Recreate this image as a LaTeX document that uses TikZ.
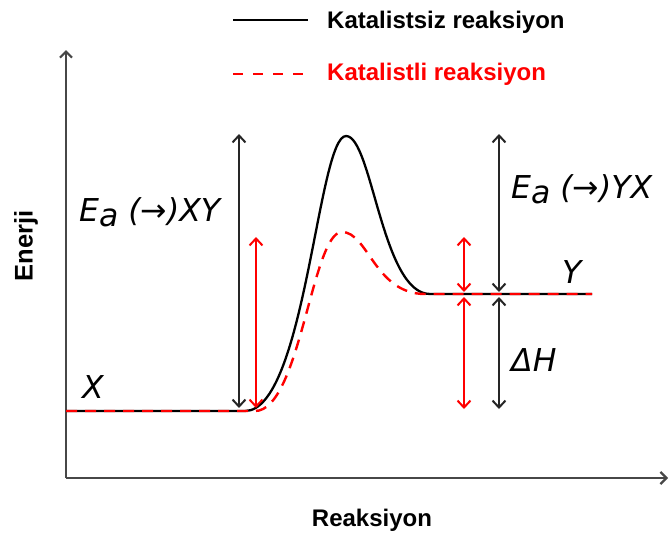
\documentclass[tikz,border=0pt]{standalone}
\usepackage{fontspec}
\setmainfont{Liberation Sans}
\newfontfamily\dvfont{DejaVu Sans}
\usetikzlibrary{arrows.meta}
\tikzset{
  axisline/.style={draw=black!72, line width=2.8pt, -{Straight Barb[length=6pt,width=12pt,line width=2.2pt]}},
  blkcurve/.style={draw=black, line width=2.3pt},
  redcurve/.style={draw=red, line width=2.4pt, dash pattern=on 11pt off 8pt},
  blkdim/.style={draw=black!85, line width=2pt, {Straight Barb[length=7pt,width=13pt]}-{Straight Barb[length=7pt,width=13pt]}},
  reddim/.style={blkdim, draw=red},
  legtext/.style={font=\fontsize{24}{26}\selectfont\bfseries, anchor=west, inner sep=0pt},
  axtext/.style={font=\fontsize{24}{26}\selectfont\bfseries, inner sep=0pt},
  mlab/.style={font=\dvfont\fontsize{31.5}{34}\selectfont\itshape, inner sep=0pt, anchor=west},
}
\newcommand{\Ea}{E\raisebox{-5pt}{a}}
\begin{document}
\begin{tikzpicture}[x=1pt,y=-1pt]
\useasboundingbox (0,0) rectangle (669,536);
% axes
\coordinate (O) at (66,478);
\coordinate (ytop) at (66,50);
\coordinate (xend) at (668,478);
\draw[axisline] (O) -- (ytop);
\draw[axisline] (O) -- (xend);
\node[axtext, rotate=90, font=\fontsize{25.5}{27}\selectfont\bfseries] (enerji) at (26,246) {Enerji};
\node[axtext] (reak) at (372,520) {Reaksiyon};
% legend
\coordinate (lb1) at (233,20);
\coordinate (lb2) at (308,20);
\coordinate (lr1) at (233,74);
\coordinate (lr2) at (308,74);
\draw[blkcurve] (lb1) -- (lb2);
\draw[redcurve, dash pattern=on 10pt off 10pt] (lr1) -- (lr2);
\node[legtext] (leg1) at (327,22) {Katalistsiz reaksiyon};
\node[legtext, text=red] (leg2) at (327,74) {Katalistli reaksiyon};
% curves
\draw[blkcurve] (66,411) -- (245,411) .. controls (305,411) and (318,136) .. (346,136)
  .. controls (372,136) and (382,294) .. (430,294) -- (592,294);
\draw[redcurve] (66,411) -- (255,411) .. controls (300,411) and (312,232) .. (342,232)
  .. controls (368,232) and (375,294) .. (425,294) -- (592,294);
% dimension arrows
\coordinate (a1t) at (239,134);
\coordinate (a1b) at (239,408);
\coordinate (a2t) at (256,237);
\coordinate (a2b) at (256,408);
\coordinate (r1t) at (464,237);
\coordinate (r1b) at (464,292);
\coordinate (r2t) at (464,297);
\coordinate (r2b) at (464,409);
\coordinate (b1t) at (499,134);
\coordinate (b1b) at (499,292);
\coordinate (b2t) at (499,297);
\coordinate (b2b) at (499,409);
\draw[blkdim] (a1t) -- (a1b);
\draw[reddim] (a2t) -- (a2b);
\draw[reddim] (r1t) -- (r1b);
\draw[reddim] (r2t) -- (r2b);
\draw[blkdim] (b1t) -- (b1b);
\draw[blkdim] (b2t) -- (b2b);
% labels
\node[mlab] (eaxy) at (79,212) {\Ea\ ({\upshape→})XY};
\node[mlab] (eayx) at (511,189) {\Ea\ ({\upshape→})YX};
\node[mlab] (lx) at (82,387) {X};
\node[mlab] (ly) at (562,272) {Y};
\node[mlab] (dh) at (511,360) {ΔH};
\end{tikzpicture}
\end{document}
